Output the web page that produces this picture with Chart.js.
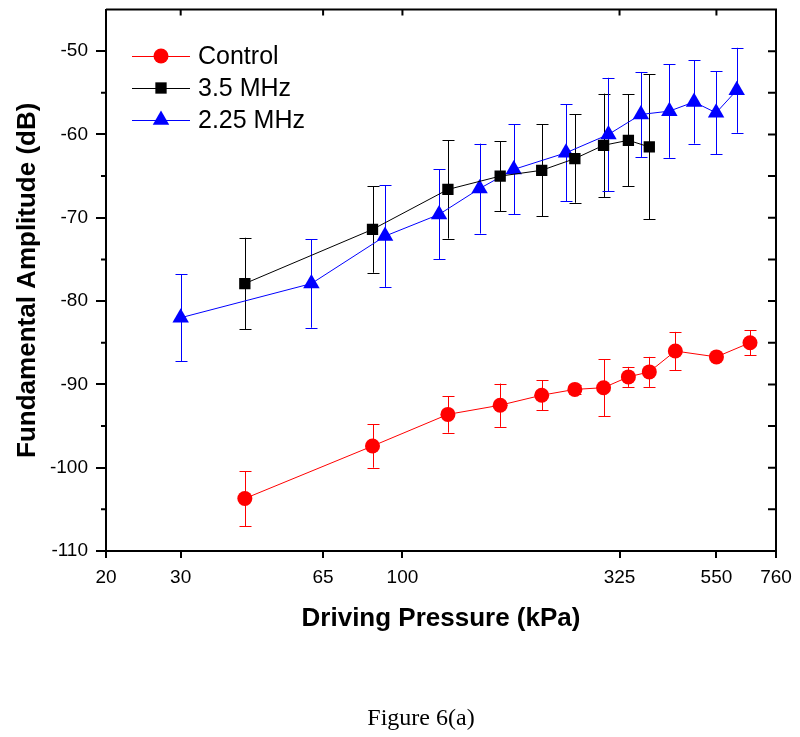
<!DOCTYPE html>
<html>
<head>
<meta charset="utf-8">
<script src="https://cdn.jsdelivr.net/npm/chart.js@4.4.1/dist/chart.umd.min.js"></script>
<style>
  body { margin: 0; background: #fff; }
  #wrap { position: relative; width: 800px; height: 737px; }
  #caption { position: absolute; left: 321px; width: 200px; top: 705px; text-align: center;
             font: 24px "Liberation Serif", "Times New Roman", serif; line-height: 24px; color: #000; }
</style>
</head>
<body>
<div id="wrap">
  <canvas id="myChart" width="800" height="737"></canvas>
  <div id="caption">Figure 6(a)</div>
</div>
<script>
// values
var seriesNames = ['Control', '3.5 MHz', '2.25 MHz'];

var pressureControl = [42.5, 85, 128, 170, 213, 255, 298, 341, 382, 440, 550, 660];
var ampControl = [-103.7, -97.4, -93.6, -92.5, -91.3, -90.6, -90.4, -89.1, -88.5, -86.0, -86.7, -85.0];
var errControl = [3.3, 2.6, 2.2, 2.6, 1.8, 0.5, 3.4, 1.2, 1.8, 2.3, 0, 1.5];

var pressure35 = [42.5, 85, 128, 170, 213, 255, 298, 341, 382];
var amp35 = [-77.9, -71.4, -66.6, -65.0, -64.3, -62.9, -61.3, -60.7, -61.5];
var err35 = [5.5, 5.2, 5.9, 4.2, 5.5, 5.3, 6.2, 5.5, 8.7];

var pressure225 = [30, 61, 91, 122, 152, 183, 243, 306, 365, 426, 487, 549, 614];
var amp225 = [-82.0, -77.9, -72.2, -69.6, -66.5, -64.2, -62.2, -60.0, -57.6, -57.2, -56.1, -57.4, -54.7];
var err225 = [5.2, 5.3, 6.1, 5.4, 5.4, 5.4, 5.8, 6.8, 5.1, 5.6, 5.0, 5.0, 5.1];

var xTicks = [20, 30, 65, 100, 325, 550, 760];
var yTicks = [-110, -100, -90, -80, -70, -60, -50];
var yMinorTicks = [-105, -95, -85, -75, -65, -55];

var FONT = '"Liberation Sans", Arial, sans-serif';

function points(xs, ys, errs) {
  var out = [];
  for (var i = 0; i < xs.length; i++) {
    out.push({x: xs[i], y: ys[i], err: errs[i]});
  }
  return out;
}

var errorBars = {
  id: 'errorBars',
  beforeDatasetsDraw: function (chart) {
    var ctx = chart.ctx;
    var xs = chart.scales.x, ys = chart.scales.y;
    ctx.save();
    chart.data.datasets.forEach(function (ds) {
      ctx.strokeStyle = ds.borderColor;
      ctx.lineWidth = 1;
      ds.data.forEach(function (p) {
        if (!p.err) return;
        var px = Math.round(xs.getPixelForValue(p.x)) + 0.5;
        var top = ys.getPixelForValue(p.y + p.err);
        var bot = ys.getPixelForValue(p.y - p.err);
        ctx.beginPath();
        ctx.moveTo(px, top); ctx.lineTo(px, bot);
        ctx.moveTo(px - 6, Math.round(top) + 0.5); ctx.lineTo(px + 6, Math.round(top) + 0.5);
        ctx.moveTo(px - 6, Math.round(bot) + 0.5); ctx.lineTo(px + 6, Math.round(bot) + 0.5);
        ctx.stroke();
      });
    });
    ctx.restore();
  }
};

var frameAndLegend = {
  id: 'frameAndLegend',
  afterDraw: function (chart) {
    var ctx = chart.ctx;
    var a = chart.chartArea;
    var xs = chart.scales.x, ys = chart.scales.y;
    ctx.save();
    ctx.strokeStyle = '#000';
    ctx.lineWidth = 2;
    ctx.beginPath();
    ctx.moveTo(a.left, a.top); ctx.lineTo(a.right, a.top); ctx.lineTo(a.right, a.bottom);
    ctx.stroke();
    // minor ticks, left side (outward)
    ctx.beginPath();
    yMinorTicks.forEach(function (v) {
      var py = ys.getPixelForValue(v);
      ctx.moveTo(a.left, py); ctx.lineTo(a.left - 5, py);
    });
    // right side ticks (inward)
    yTicks.concat(yMinorTicks).forEach(function (v) {
      if (v <= -110) return;
      var py = ys.getPixelForValue(v);
      ctx.moveTo(a.right, py); ctx.lineTo(a.right - 8, py);
    });
    // top ticks (inward)
    xTicks.forEach(function (v) {
      if (v <= 20 || v >= 760) return;
      var px = xs.getPixelForValue(v);
      ctx.moveTo(px, a.top); ctx.lineTo(px, a.top + 6);
    });
    ctx.stroke();

    // legend
    var rowY = [56, 88, 120];
    ctx.font = '25px ' + FONT;
    ctx.textBaseline = 'middle';
    ctx.textAlign = 'left';
    chart.data.datasets.forEach(function (ds, i) {
      var y = rowY[i];
      ctx.strokeStyle = ds.borderColor;
      ctx.lineWidth = 1;
      ctx.beginPath();
      ctx.moveTo(132, y + 0.5); ctx.lineTo(190, y + 0.5);
      ctx.stroke();
      ctx.fillStyle = ds.pointBackgroundColor;
      Chart.helpers.drawPoint(ctx, {pointStyle: ds.pointStyle, radius: ds.pointRadius, rotation: 0, borderWidth: 0}, 161, y);
      ctx.fillStyle = '#000';
      ctx.fillText(ds.label, 198, y + 1);
    });
    ctx.restore();
  }
};

var ctx = document.getElementById('myChart');
var myChart = new Chart(ctx, {
  type: 'line',
  data: {
    datasets: [{
      label: seriesNames[0],
      data: points(pressureControl, ampControl, errControl),
      borderColor: '#ff0000',
      backgroundColor: '#ff0000',
      pointBackgroundColor: '#ff0000',
      pointStyle: 'circle',
      pointRadius: 7.5,
      pointBorderWidth: 0,
      borderWidth: 1
    }, {
      label: seriesNames[1],
      data: points(pressure35, amp35, err35),
      borderColor: '#000000',
      backgroundColor: '#000000',
      pointBackgroundColor: '#000000',
      pointStyle: 'rect',
      pointRadius: 8,
      pointBorderWidth: 0,
      borderWidth: 1
    }, {
      label: seriesNames[2],
      data: points(pressure225, amp225, err225),
      borderColor: '#0000ff',
      backgroundColor: '#0000ff',
      pointBackgroundColor: '#0000ff',
      pointStyle: 'triangle',
      pointRadius: 9.5,
      pointBorderWidth: 0,
      borderWidth: 1
    }]
  },
  options: {
    responsive: false,
    animation: false,
    layout: { padding: { top: 7, right: 24, left: 0, bottom: 0 } },
    plugins: {
      legend: { display: false },
      tooltip: { enabled: false }
    },
    elements: { line: { tension: 0 } },
    scales: {
      x: {
        type: 'logarithmic',
        min: 20,
        max: 760,
        afterBuildTicks: function (scale) {
          scale.ticks = xTicks.map(function (v) { return {value: v}; });
        },
        afterFit: function (scale) {
          scale.height = 186;
          scale.paddingLeft = 0;
          scale.paddingRight = 0;
        },
        ticks: {
          autoSkip: false,
          maxRotation: 0,
          padding: 8,
          color: '#000',
          font: { family: FONT, size: 19 },
          callback: function (value) { return String(value); }
        },
        grid: { drawOnChartArea: false, drawTicks: true, tickLength: 7, color: '#000', lineWidth: 2 },
        border: { display: true, color: '#000', width: 2 },
        title: {
          display: true,
          text: 'Driving Pressure (kPa)',
          color: '#000',
          font: { family: FONT, size: 26, weight: 'bold' },
          padding: { top: 0, bottom: 103 }
        }
      },
      y: {
        type: 'linear',
        min: -110,
        max: -45,
        afterBuildTicks: function (scale) {
          scale.ticks = yTicks.map(function (v) { return {value: v}; });
        },
        afterFit: function (scale) {
          scale.width = 106;
          scale.paddingTop = 0;
          scale.paddingBottom = 0;
        },
        ticks: {
          padding: 8,
          color: '#000',
          font: { family: FONT, size: 19 }
        },
        grid: { drawOnChartArea: false, drawTicks: true, tickLength: 10, color: '#000', lineWidth: 2 },
        border: { display: true, color: '#000', width: 2 },
        title: {
          display: true,
          text: 'Fundamental Amplitude (dB)',
          color: '#000',
          font: { family: FONT, size: 26, weight: 'bold' },
          padding: { top: 12, bottom: 0 }
        }
      }
    }
  },
  plugins: [errorBars, frameAndLegend]
});
</script>
</body>
</html>
